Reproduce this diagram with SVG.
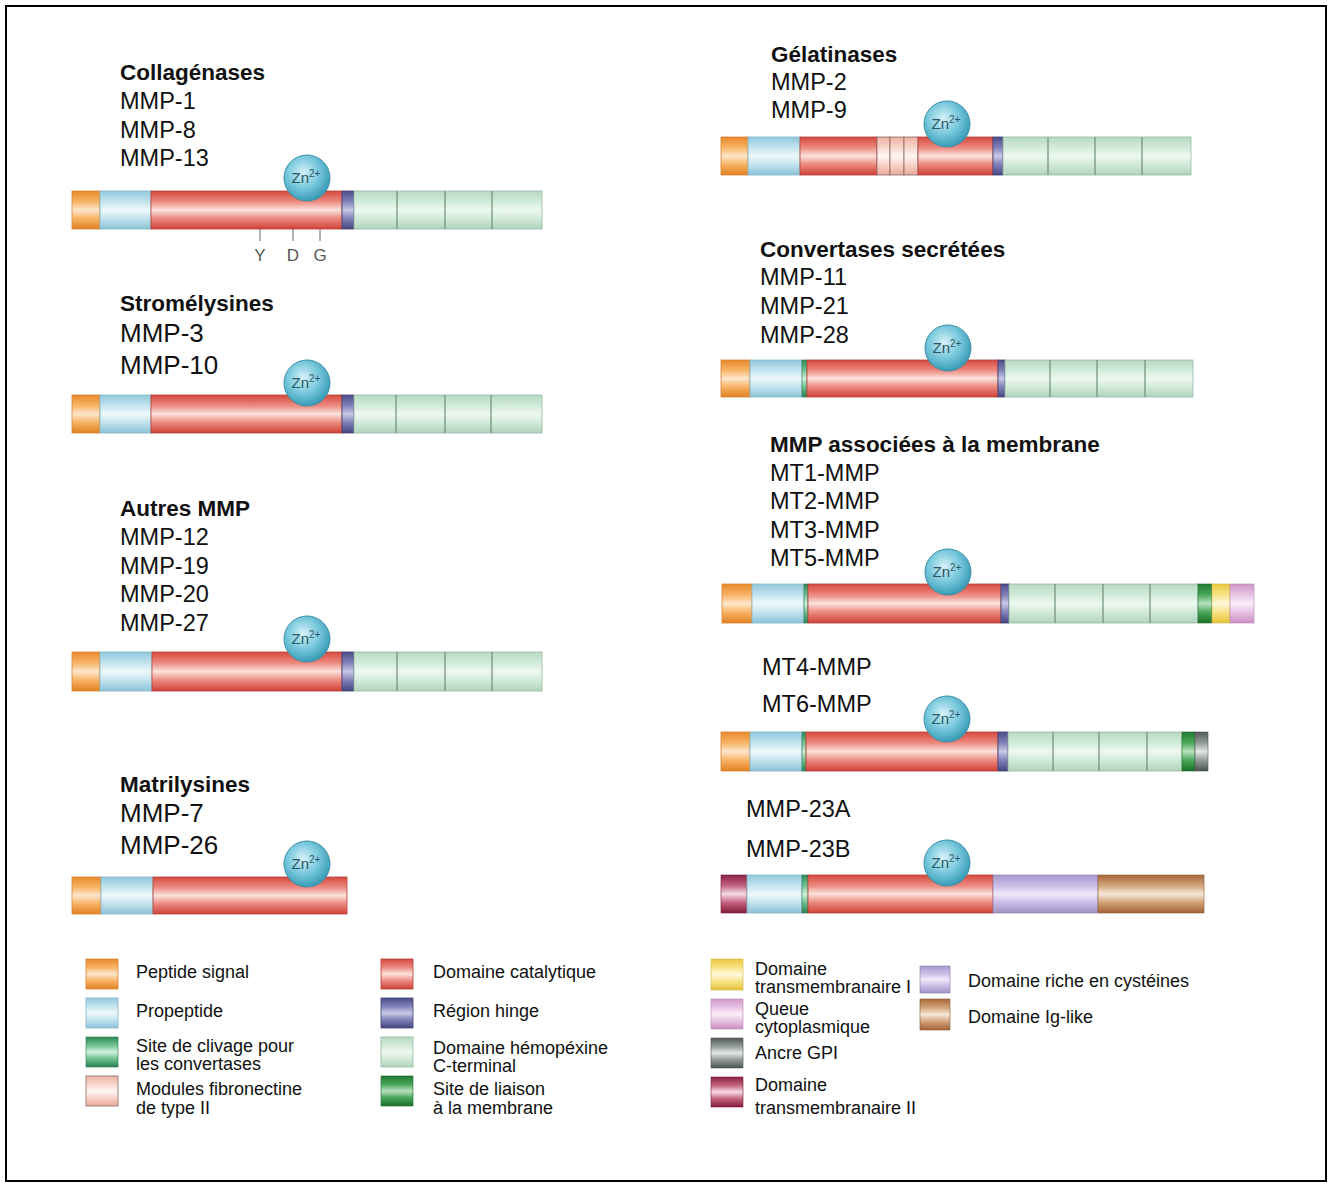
<svg xmlns="http://www.w3.org/2000/svg" width="1332" height="1184" viewBox="0 0 1332 1184">
  <style>
    text { font-family: "Liberation Sans", Arial, sans-serif; fill: #111; }
    .ttl { font-size: 22.5px; font-weight: bold; }
    .itm { font-size: 23.5px; }
    .big { font-size: 26px; }
    .leg { font-size: 18px; }
    .ydg { font-size: 17px; fill: #555; text-anchor: middle; }
    .zn { font-size: 15px; fill: #2a5664; text-anchor: middle; }
    .zn tspan { font-size: 10px; }
    .sig { fill: url(#gOr); stroke: #d98634; stroke-width: 0.8; }
    .pro { fill: url(#gBl); stroke: #86b8c8; stroke-width: 0.8; }
    .cat { fill: url(#gRd); stroke: #b84038; stroke-width: 0.8; }
    .hng { fill: url(#gHg); stroke: #40407a; stroke-width: 0.8; }
    .hpx { fill: url(#gGr); stroke: #9ab8a2; stroke-width: 0.8; }
    .clv { fill: url(#gCl); stroke: #2a7a4c; stroke-width: 0.6; }
    .fn  { fill: url(#gFn); stroke: #8a6a64; stroke-width: 0.8; }
    .mem { fill: url(#gMb); stroke: #1e6a2c; stroke-width: 0.6; }
    .tm1 { fill: url(#gTm1); stroke: #d4b444; stroke-width: 0.6; }
    .cyt { fill: url(#gCy); stroke: #b888b0; stroke-width: 0.6; }
    .gpi { fill: url(#gGpi); stroke: #505656; stroke-width: 0.6; }
    .tm2 { fill: url(#gTm2); stroke: #7a1c38; stroke-width: 0.6; }
    .cys { fill: url(#gCys); stroke: #8a7aae; stroke-width: 0.6; }
    .ig  { fill: url(#gIg); stroke: #8a5a34; stroke-width: 0.6; }
    .div { stroke: #6e8e76; stroke-width: 1.2; }
    .tick { stroke: #666; stroke-width: 1; }
    .znc { fill: url(#gZn); stroke: #3c8ea6; stroke-width: 1; }
  </style>
  <defs>
    <linearGradient id="gOr" x1="0" y1="0" x2="0" y2="1">
      <stop offset="0" stop-color="#e8892c"/><stop offset="0.28" stop-color="#f8b466"/>
      <stop offset="0.5" stop-color="#fde6cc"/><stop offset="0.72" stop-color="#f8b466"/>
      <stop offset="1" stop-color="#e08022"/>
    </linearGradient>
    <linearGradient id="gBl" x1="0" y1="0" x2="0" y2="1">
      <stop offset="0" stop-color="#92c8dc"/><stop offset="0.28" stop-color="#c4e4ef"/>
      <stop offset="0.5" stop-color="#eef8fb"/><stop offset="0.72" stop-color="#c4e4ef"/>
      <stop offset="1" stop-color="#8cc2d6"/>
    </linearGradient>
    <linearGradient id="gRd" x1="0" y1="0" x2="0" y2="1">
      <stop offset="0" stop-color="#d54a40"/><stop offset="0.28" stop-color="#ec8a80"/>
      <stop offset="0.5" stop-color="#fbe2dc"/><stop offset="0.72" stop-color="#ec8a80"/>
      <stop offset="1" stop-color="#cf4238"/>
    </linearGradient>
    <linearGradient id="gHg" x1="0" y1="0" x2="0" y2="1">
      <stop offset="0" stop-color="#4c4c88"/><stop offset="0.28" stop-color="#8282ba"/>
      <stop offset="0.5" stop-color="#c8c8e6"/><stop offset="0.72" stop-color="#8282ba"/>
      <stop offset="1" stop-color="#46467e"/>
    </linearGradient>
    <linearGradient id="gGr" x1="0" y1="0" x2="0" y2="1">
      <stop offset="0" stop-color="#b6dac2"/><stop offset="0.28" stop-color="#d2ebda"/>
      <stop offset="0.5" stop-color="#eef8f1"/><stop offset="0.72" stop-color="#d2ebda"/>
      <stop offset="1" stop-color="#b0d4bc"/>
    </linearGradient>
    <linearGradient id="gCl" x1="0" y1="0" x2="0" y2="1">
      <stop offset="0" stop-color="#2e8a55"/><stop offset="0.28" stop-color="#72c292"/>
      <stop offset="0.5" stop-color="#d2f0de"/><stop offset="0.72" stop-color="#72c292"/>
      <stop offset="1" stop-color="#2a8050"/>
    </linearGradient>
    <linearGradient id="gFn" x1="0" y1="0" x2="0" y2="1">
      <stop offset="0" stop-color="#eeb2a2"/><stop offset="0.28" stop-color="#f8d6cc"/>
      <stop offset="0.5" stop-color="#fff6f3"/><stop offset="0.72" stop-color="#f8d6cc"/>
      <stop offset="1" stop-color="#eaa898"/>
    </linearGradient>
    <linearGradient id="gMb" x1="0" y1="0" x2="0" y2="1">
      <stop offset="0" stop-color="#1e7a30"/><stop offset="0.28" stop-color="#4aa85a"/>
      <stop offset="0.5" stop-color="#b8e0c0"/><stop offset="0.72" stop-color="#4aa85a"/>
      <stop offset="1" stop-color="#1a7028"/>
    </linearGradient>
    <linearGradient id="gTm1" x1="0" y1="0" x2="0" y2="1">
      <stop offset="0" stop-color="#ecc840"/><stop offset="0.28" stop-color="#f8e488"/>
      <stop offset="0.5" stop-color="#fff8dc"/><stop offset="0.72" stop-color="#f8e488"/>
      <stop offset="1" stop-color="#e6c23a"/>
    </linearGradient>
    <linearGradient id="gCy" x1="0" y1="0" x2="0" y2="1">
      <stop offset="0" stop-color="#d098c8"/><stop offset="0.28" stop-color="#e8c4e4"/>
      <stop offset="0.5" stop-color="#fbeefa"/><stop offset="0.72" stop-color="#e8c4e4"/>
      <stop offset="1" stop-color="#ca90c2"/>
    </linearGradient>
    <linearGradient id="gGpi" x1="0" y1="0" x2="0" y2="1">
      <stop offset="0" stop-color="#505858"/><stop offset="0.28" stop-color="#949c9c"/>
      <stop offset="0.5" stop-color="#e2e6e6"/><stop offset="0.72" stop-color="#949c9c"/>
      <stop offset="1" stop-color="#4a5252"/>
    </linearGradient>
    <linearGradient id="gTm2" x1="0" y1="0" x2="0" y2="1">
      <stop offset="0" stop-color="#8a2040"/><stop offset="0.28" stop-color="#c46482"/>
      <stop offset="0.5" stop-color="#f6dce4"/><stop offset="0.72" stop-color="#c46482"/>
      <stop offset="1" stop-color="#841c3a"/>
    </linearGradient>
    <linearGradient id="gCys" x1="0" y1="0" x2="0" y2="1">
      <stop offset="0" stop-color="#a898cc"/><stop offset="0.28" stop-color="#cabee6"/>
      <stop offset="0.5" stop-color="#f0eafa"/><stop offset="0.72" stop-color="#cabee6"/>
      <stop offset="1" stop-color="#a292c6"/>
    </linearGradient>
    <linearGradient id="gIg" x1="0" y1="0" x2="0" y2="1">
      <stop offset="0" stop-color="#a86838"/><stop offset="0.28" stop-color="#d2a47c"/>
      <stop offset="0.5" stop-color="#f8e8d8"/><stop offset="0.72" stop-color="#d2a47c"/>
      <stop offset="1" stop-color="#a26234"/>
    </linearGradient>
    <radialGradient id="gZn" cx="0.42" cy="0.38" r="0.62">
      <stop offset="0" stop-color="#d6f1f8"/><stop offset="0.55" stop-color="#78c8dc"/>
      <stop offset="1" stop-color="#3a9cb8"/>
    </radialGradient>
    <!-- zinc ion badge, centred on its origin -->
    <g id="zn">
      <circle class="znc" cx="0" cy="0" r="23"/>
      <text class="zn" x="-1" y="5">Zn<tspan dy="-6">2+</tspan></text>
    </g>
  </defs>

  <rect x="0" y="0" width="1332" height="1184" fill="#fff"/>
  <rect x="6" y="6" width="1320" height="1175" fill="none" stroke="#000" stroke-width="2"/>

  <!-- Collagénases -->
  <g id="collagenases">
    <text class="ttl" x="120" y="80">Collagénases</text>
    <text class="itm" x="120" y="109">MMP-1</text>
    <text class="itm" x="120" y="138">MMP-8</text>
    <text class="itm" x="120" y="166">MMP-13</text>
    <rect class="sig" x="72" y="191" width="28" height="38"/>
    <rect class="pro" x="100" y="191" width="51" height="38"/>
    <rect class="cat" x="151" y="191" width="191" height="38"/>
    <rect class="hng" x="342" y="191" width="12" height="38"/>
    <rect class="hpx" x="354" y="191" width="188" height="38"/>
    <line class="div" x1="397" y1="191" x2="397" y2="229"/>
    <line class="div" x1="445" y1="191" x2="445" y2="229"/>
    <line class="div" x1="492" y1="191" x2="492" y2="229"/>
    <use href="#zn" x="307" y="178"/>
    <line class="tick" x1="260" y1="229" x2="260" y2="241"/>
    <line class="tick" x1="293" y1="229" x2="293" y2="241"/>
    <line class="tick" x1="320" y1="229" x2="320" y2="241"/>
    <text class="ydg" x="260" y="261">Y</text>
    <text class="ydg" x="293" y="261">D</text>
    <text class="ydg" x="320" y="261">G</text>
  </g>

  <!-- Stromélysines -->
  <g id="stromelysines">
    <text class="ttl" x="120" y="311">Stromélysines</text>
    <text class="big" x="120" y="342">MMP-3</text>
    <text class="big" x="120" y="374">MMP-10</text>
    <rect class="sig" x="72" y="395" width="28" height="38"/>
    <rect class="pro" x="100" y="395" width="51" height="38"/>
    <rect class="cat" x="151" y="395" width="191" height="38"/>
    <rect class="hng" x="342" y="395" width="12" height="38"/>
    <rect class="hpx" x="354" y="395" width="188" height="38"/>
    <line class="div" x1="396" y1="395" x2="396" y2="433"/>
    <line class="div" x1="445" y1="395" x2="445" y2="433"/>
    <line class="div" x1="491" y1="395" x2="491" y2="433"/>
    <use href="#zn" x="307" y="383"/>
  </g>

  <!-- Autres MMP -->
  <g id="autres-mmp">
    <text class="ttl" x="120" y="516">Autres MMP</text>
    <text class="itm" x="120" y="545">MMP-12</text>
    <text class="itm" x="120" y="574">MMP-19</text>
    <text class="itm" x="120" y="602">MMP-20</text>
    <text class="itm" x="120" y="631">MMP-27</text>
    <rect class="sig" x="72" y="652" width="28" height="39"/>
    <rect class="pro" x="100" y="652" width="52" height="39"/>
    <rect class="cat" x="152" y="652" width="190" height="39"/>
    <rect class="hng" x="342" y="652" width="12" height="39"/>
    <rect class="hpx" x="354" y="652" width="188" height="39"/>
    <line class="div" x1="397" y1="652" x2="397" y2="691"/>
    <line class="div" x1="445" y1="652" x2="445" y2="691"/>
    <line class="div" x1="492" y1="652" x2="492" y2="691"/>
    <use href="#zn" x="307" y="639"/>
  </g>

  <!-- Matrilysines -->
  <g id="matrilysines">
    <text class="ttl" x="120" y="792">Matrilysines</text>
    <text class="big" x="120" y="822">MMP-7</text>
    <text class="big" x="120" y="854">MMP-26</text>
    <rect class="sig" x="72" y="877" width="29" height="37"/>
    <rect class="pro" x="101" y="877" width="52" height="37"/>
    <rect class="cat" x="153" y="877" width="194" height="37"/>
    <use href="#zn" x="307" y="864"/>
  </g>

  <!-- Gélatinases -->
  <g id="gelatinases">
    <text class="ttl" x="771" y="62">Gélatinases</text>
    <text class="itm" x="771" y="90">MMP-2</text>
    <text class="itm" x="771" y="118">MMP-9</text>
    <rect class="sig" x="721" y="137" width="27" height="38"/>
    <rect class="pro" x="748" y="137" width="52" height="38"/>
    <rect class="cat" x="800" y="137" width="77" height="38"/>
    <rect class="fn" x="877" y="137" width="13" height="38"/>
    <rect class="fn" x="890" y="137" width="14" height="38"/>
    <rect class="fn" x="904" y="137" width="14" height="38"/>
    <rect class="cat" x="918" y="137" width="75" height="38"/>
    <rect class="hng" x="993" y="137" width="10" height="38"/>
    <rect class="hpx" x="1003" y="137" width="188" height="38"/>
    <line class="div" x1="1048" y1="137" x2="1048" y2="175"/>
    <line class="div" x1="1095" y1="137" x2="1095" y2="175"/>
    <line class="div" x1="1142" y1="137" x2="1142" y2="175"/>
    <use href="#zn" x="947" y="124"/>
  </g>

  <!-- Convertases secrétées -->
  <g id="convertases">
    <text class="ttl" x="760" y="257">Convertases secrétées</text>
    <text class="itm" x="760" y="285">MMP-11</text>
    <text class="itm" x="760" y="314">MMP-21</text>
    <text class="itm" x="760" y="343">MMP-28</text>
    <rect class="sig" x="721" y="360" width="29" height="37"/>
    <rect class="pro" x="750" y="360" width="52" height="37"/>
    <rect class="clv" x="802" y="360" width="5" height="37"/>
    <rect class="cat" x="807" y="360" width="191" height="37"/>
    <rect class="hng" x="998" y="360" width="7" height="37"/>
    <rect class="hpx" x="1005" y="360" width="188" height="37"/>
    <line class="div" x1="1050" y1="360" x2="1050" y2="397"/>
    <line class="div" x1="1097" y1="360" x2="1097" y2="397"/>
    <line class="div" x1="1145" y1="360" x2="1145" y2="397"/>
    <use href="#zn" x="948" y="348"/>
  </g>

  <!-- MMP associées à la membrane -->
  <g id="mt-mmp">
    <text class="ttl" x="770" y="452">MMP associées à la membrane</text>
    <text class="itm" x="770" y="481">MT1-MMP</text>
    <text class="itm" x="770" y="509">MT2-MMP</text>
    <text class="itm" x="770" y="538">MT3-MMP</text>
    <text class="itm" x="770" y="566">MT5-MMP</text>
    <rect class="sig" x="722" y="584" width="30" height="39"/>
    <rect class="pro" x="752" y="584" width="52" height="39"/>
    <rect class="clv" x="804" y="584" width="4" height="39"/>
    <rect class="cat" x="808" y="584" width="193" height="39"/>
    <rect class="hng" x="1001" y="584" width="8" height="39"/>
    <rect class="hpx" x="1009" y="584" width="189" height="39"/>
    <line class="div" x1="1055" y1="584" x2="1055" y2="623"/>
    <line class="div" x1="1103" y1="584" x2="1103" y2="623"/>
    <line class="div" x1="1150" y1="584" x2="1150" y2="623"/>
    <rect class="mem" x="1198" y="584" width="14" height="39"/>
    <rect class="tm1" x="1212" y="584" width="18" height="39"/>
    <rect class="cyt" x="1230" y="584" width="24" height="39"/>
    <use href="#zn" x="948" y="572"/>
  </g>

  <!-- MT4-MMP / MT6-MMP -->
  <g id="mt-gpi">
    <text class="itm" x="762" y="675">MT4-MMP</text>
    <text class="itm" x="762" y="712">MT6-MMP</text>
    <rect class="sig" x="721" y="732" width="29" height="39"/>
    <rect class="pro" x="750" y="732" width="52" height="39"/>
    <rect class="clv" x="802" y="732" width="4" height="39"/>
    <rect class="cat" x="806" y="732" width="192" height="39"/>
    <rect class="hng" x="998" y="732" width="10" height="39"/>
    <rect class="hpx" x="1008" y="732" width="174" height="39"/>
    <line class="div" x1="1053" y1="732" x2="1053" y2="771"/>
    <line class="div" x1="1099" y1="732" x2="1099" y2="771"/>
    <line class="div" x1="1147" y1="732" x2="1147" y2="771"/>
    <rect class="mem" x="1182" y="732" width="13" height="39"/>
    <rect class="gpi" x="1195" y="732" width="13" height="39"/>
    <use href="#zn" x="947" y="719"/>
  </g>

  <!-- MMP-23 -->
  <g id="mmp-23">
    <text class="itm" x="746" y="817">MMP-23A</text>
    <text class="itm" x="746" y="857">MMP-23B</text>
    <rect class="tm2" x="721" y="875" width="26" height="38"/>
    <rect class="pro" x="747" y="875" width="55" height="38"/>
    <rect class="clv" x="802" y="875" width="6" height="38"/>
    <rect class="cat" x="808" y="875" width="185" height="38"/>
    <rect class="cys" x="993" y="875" width="105" height="38"/>
    <rect class="ig" x="1098" y="875" width="106" height="38"/>
    <use href="#zn" x="947" y="863"/>
  </g>

  <!-- Legend -->
  <g id="legend">
    <rect class="sig" x="86" y="959" width="32" height="30"/>
    <text class="leg" x="136" y="978">Peptide signal</text>
    <rect class="pro" x="86" y="998" width="32" height="30"/>
    <text class="leg" x="136" y="1017">Propeptide</text>
    <rect class="clv" x="86" y="1037" width="32" height="30"/>
    <text class="leg" x="136" y="1052">Site de clivage pour</text>
    <text class="leg" x="136" y="1070">les convertases</text>
    <rect class="fn" x="86" y="1076" width="32" height="30"/>
    <text class="leg" x="136" y="1095">Modules fibronectine</text>
    <text class="leg" x="136" y="1114">de type II</text>

    <rect class="cat" x="381" y="959" width="32" height="30"/>
    <text class="leg" x="433" y="978">Domaine catalytique</text>
    <rect class="hng" x="381" y="998" width="32" height="30"/>
    <text class="leg" x="433" y="1017">Région hinge</text>
    <rect class="hpx" x="381" y="1037" width="32" height="30"/>
    <text class="leg" x="433" y="1054">Domaine hémopéxine</text>
    <text class="leg" x="433" y="1072">C-terminal</text>
    <rect class="mem" x="381" y="1076" width="32" height="30"/>
    <text class="leg" x="433" y="1095">Site de liaison</text>
    <text class="leg" x="433" y="1114">à la membrane</text>

    <rect class="tm1" x="711" y="959" width="32" height="31"/>
    <text class="leg" x="755" y="975">Domaine</text>
    <text class="leg" x="755" y="993">transmembranaire I</text>
    <rect class="cyt" x="711" y="999" width="32" height="30"/>
    <text class="leg" x="755" y="1015">Queue</text>
    <text class="leg" x="755" y="1033">cytoplasmique</text>
    <rect class="gpi" x="711" y="1038" width="32" height="30"/>
    <text class="leg" x="755" y="1059">Ancre GPI</text>
    <rect class="tm2" x="711" y="1077" width="32" height="30"/>
    <text class="leg" x="755" y="1091">Domaine</text>
    <text class="leg" x="755" y="1114">transmembranaire II</text>

    <rect class="cys" x="920" y="966" width="30" height="27"/>
    <text class="leg" x="968" y="987">Domaine riche en cystéines</text>
    <rect class="ig" x="920" y="999" width="30" height="31"/>
    <text class="leg" x="968" y="1023">Domaine Ig-like</text>
  </g>
</svg>
